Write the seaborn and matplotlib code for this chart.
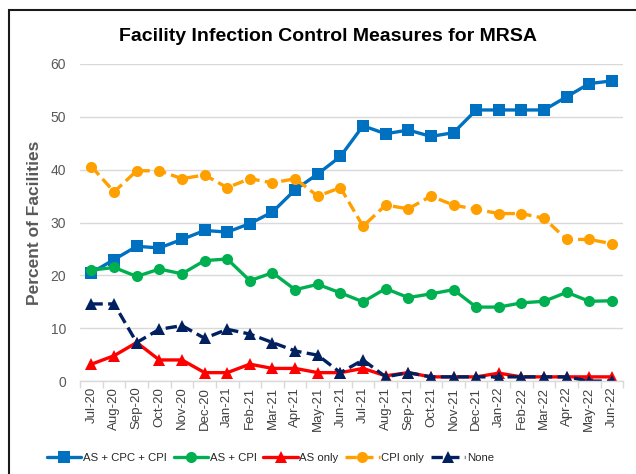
"""Facility infection control measures for MRSA, monthly line chart."""

import matplotlib
matplotlib.use("Agg")
import matplotlib.pyplot as plt
import pandas as pd
import seaborn as sns
from matplotlib.patches import Rectangle

months = ["Jul-20", "Aug-20", "Sep-20", "Oct-20", "Nov-20", "Dec-20",
          "Jan-21", "Feb-21", "Mar-21", "Apr-21", "May-21", "Jun-21",
          "Jul-21", "Aug-21", "Sep-21", "Oct-21", "Nov-21", "Dec-21",
          "Jan-22", "Feb-22", "Mar-22", "Apr-22", "May-22", "Jun-22"]

as_cpc_cpi = [20.5, 23.0, 25.5, 25.2, 26.8, 28.5, 28.2, 29.8, 32.0, 36.2, 39.2, 42.5,
              48.3, 46.8, 47.5, 46.3, 47.0, 51.3, 51.3, 51.3, 51.3, 53.8, 56.3, 56.8]
as_cpi = [21.0, 21.5, 19.8, 21.2, 20.3, 22.8, 23.1, 19.0, 20.5, 17.3, 18.3, 16.7,
          15.0, 17.5, 15.8, 16.5, 17.3, 14.0, 14.0, 14.8, 15.1, 16.8, 15.1, 15.2]
as_only = [3.2, 4.8, 7.3, 4.0, 4.0, 1.6, 1.6, 3.2, 2.4, 2.4, 1.6, 1.6,
           2.4, 1.0, 1.6, 0.8, 0.8, 0.8, 1.5, 0.8, 0.8, 0.8, 0.8, 0.8]
cpi_only = [40.6, 35.8, 39.8, 39.8, 38.3, 39.0, 36.6, 38.3, 37.5, 38.3, 35.0, 36.6,
            29.3, 33.3, 32.6, 35.0, 33.3, 32.5, 31.7, 31.7, 30.8, 26.8, 26.8, 26.0]
none = [14.6, 14.6, 7.3, 9.8, 10.5, 8.1, 9.8, 8.9, 7.3, 5.7, 4.9, 1.6,
        4.0, 0.8, 1.6, 0.8, 0.8, 0.8, 0.8, 0.8, 0.8, 0.8, 0.0, 0.0]

series = {
    "AS + CPC + CPI": as_cpc_cpi,
    "AS + CPI": as_cpi,
    "AS only": as_only,
    "CPI only": cpi_only,
    "None": none,
}

# colour, marker, dashed?
styles = {
    "AS + CPC + CPI": ("#0070C0", "s", False),
    "AS + CPI": ("#00B050", "o", False),
    "AS only": ("#FF0000", "^", False),
    "CPI only": ("#FFA000", "o", True),
    "None": ("#002060", "^", True),
}

sns.set_theme(style="white")
plt.rcParams["font.family"] = ["Liberation Sans", "DejaVu Sans"]

fig = plt.figure(figsize=(6.36, 4.74), dpi=100)
ax = fig.add_axes([0.126, 0.196, 0.854, 0.669])

for name, values in series.items():
    df = pd.DataFrame({"month": months, "pct": values})
    color, marker, dashed = styles[name]
    sns.lineplot(
        data=df, x="month", y="pct", ax=ax, sort=False,
        color=color, marker=marker, markersize=8, markeredgewidth=0,
        linewidth=2.4, label=name,
        linestyle=(0, (3.4, 1.6)) if dashed else "-",
    )

ax.set_xlim(-0.5, len(months) - 0.5)
ax.set_ylim(0, 60)
ax.set_yticks(range(0, 61, 10))
ax.grid(axis="y", color="#D9D9D9", linewidth=1)
ax.set_axisbelow(True)
for side in ["left", "right", "top"]:
    ax.spines[side].set_visible(False)
ax.spines["bottom"].set_color("#D9D9D9")
ax.spines["bottom"].set_linewidth(1)

ax.set_xticks(range(len(months)))
ax.set_xticklabels(months, rotation=90, fontsize=9.5, color="#404040")
ax.tick_params(axis="x", length=0, pad=4)
ax.tick_params(axis="y", length=0, labelsize=10, labelcolor="#595959", pad=10)
# category boundary ticks on the x axis
ax.set_xticks([i - 0.5 for i in range(len(months) + 1)], minor=True)
ax.tick_params(axis="x", which="minor", length=5, color="#D9D9D9", bottom=True)

ax.set_xlabel("")
ax.set_ylabel("Percent of Facilities", fontsize=12.5, fontweight="bold",
              color="#595959", labelpad=6)

fig.text(0.515, 0.924, "Facility Infection Control Measures for MRSA",
         ha="center", va="center", fontsize=14, fontweight="bold", color="black")

handles, labels = ax.get_legend_handles_labels()
ax.legend_.remove()
fig.legend(handles, labels, loc="center left", bbox_to_anchor=(0.058, 0.034),
           ncol=5, frameon=False, handlelength=3.0, handletextpad=0.15,
           columnspacing=0.6, prop={"size": 8.2})

fig.patches.append(Rectangle((9 / 636, -0.1), 1.2, 0.1 + (474 - 10) / 474,
                             transform=fig.transFigure, fill=False,
                             edgecolor="#1a1a1a", linewidth=1.5, clip_on=False))

fig.savefig("out.png", dpi=100)
